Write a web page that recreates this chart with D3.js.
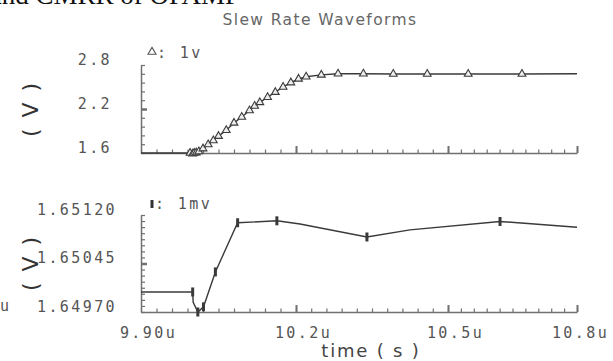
<!DOCTYPE html>
<html><head><meta charset="utf-8">
<script src="https://cdn.jsdelivr.net/npm/d3@7/dist/d3.min.js"></script>
<style>
html,body{margin:0;padding:0;background:#fff;overflow:hidden;}
svg{display:block;}
.lbl{font-family:"DejaVu Sans Mono",monospace;font-size:15px;fill:#555;letter-spacing:2.4px;}
</style></head>
<body>
<svg id="c" width="613" height="361"></svg>
<script>
// ---- data (time in microseconds) ----
const timeTop = [9.90, 9.985, 9.995, 10.000, 10.003, 10.007, 10.012, 10.020, 10.030, 10.040, 10.050, 10.065, 10.080, 10.095, 10.110, 10.120, 10.130, 10.145, 10.160, 10.175, 10.190, 10.205, 10.220, 10.250, 10.283, 10.333, 10.392, 10.459, 10.547, 10.672, 10.80];
const voutTop  = [1.600, 1.600, 1.600, 1.590, 1.600, 1.605, 1.620, 1.660, 1.715, 1.770, 1.830, 1.910, 2.010, 2.090, 2.180, 2.240, 2.290, 2.360, 2.430, 2.500, 2.560, 2.610, 2.640, 2.665, 2.680, 2.680, 2.677, 2.677, 2.677, 2.677, 2.680];
const topMarks = [0, 0, 1, 1, 1, 1, 1, 1, 1, 1, 1, 1, 1, 1, 1, 1, 1, 1, 1, 1, 1, 1, 1, 1, 1, 1, 1, 1, 1, 1, 0];

const timeBot = [9.90, 10.000, 10.001, 10.010, 10.021, 10.044, 10.087, 10.163, 10.208, 10.340, 10.425, 10.621, 10.80];
const vinBot  = [1.65001, 1.65001, 1.64985, 1.64970, 1.64978, 1.65032, 1.65108, 1.65111, 1.65106, 1.65086, 1.65097, 1.65110, 1.65101];
const botMarks = [0, 1, 0, 1, 1, 1, 1, 1, 0, 1, 0, 1, 0];

const xTickValues = [9.90, 10.2, 10.5, 10.8];
const xTickLabels = ["9.90u", "10.2u", "10.5u", "10.8u"];
const yTopTicks = [1.6, 2.2, 2.8];
const yTopLabels = ["1.6", "2.2", "2.8"];
const yBotTicks = [1.64970, 1.65045, 1.65120];
const yBotLabels = ["1.64970", "1.65045", "1.65120"];

const title = "Slew Rate Waveforms";
const xTitle = "time ( s )";
const yTitle = "( V )";
const legendTop = ": 1v";
const legendBot = ": 1mv";
const pageText = "and CMRR of OPAMP";

// ---- layout ----
const svg = d3.select("#c");
const ink = "#3a3a3a", axisC = "#707070";

const x = d3.scaleLinear().domain(xTickValues).range([141, 296, 448, 577]);
const yT = d3.scaleLinear().domain([1.6, 2.8]).range([153, 65]);
const yB = d3.scaleLinear().domain([1.64970, 1.65120]).range([312, 215]);

// clipped page text at the very top
svg.append("text").attr("x", 240).attr("y", 4).attr("text-anchor", "end")
  .attr("font-family", "Liberation Serif").attr("font-size", 27).attr("fill", "#111")
  .text(pageText);

svg.append("text").attr("x", 320).attr("y", 25).attr("text-anchor", "middle")
  .attr("font-family", "DejaVu Sans").attr("font-size", 15.5).attr("letter-spacing", 1.4)
  .attr("fill", "#666").text(title);

function styleAxis(g, w) {
  g.select(".domain").attr("stroke", axisC).attr("stroke-width", w || 1.5);
  g.selectAll(".tick line").attr("stroke", axisC).attr("stroke-width", 1.2);
}

function panel(y, yMajor, yLabels, yMinorStep, yLabelRight, withXLabels) {
  const [d0, d1] = y.domain();
  const [r0] = y.range();
  const minorY = d3.range(0, Math.round((d1 - d0) / yMinorStep) + 1).map(i => d0 + i * yMinorStep);
  const gy = svg.append("g").attr("transform", "translate(141,0)")
    .call(d3.axisRight(y).tickValues(minorY).tickSize(4).tickSizeOuter(0).tickFormat(""));
  styleAxis(gy);
  const gyM = svg.append("g").attr("transform", "translate(141,0)")
    .call(d3.axisRight(y).tickValues(yMajor.slice(1, -1)).tickSize(6).tickFormat(""));
  gyM.select(".domain").remove();
  gyM.selectAll(".tick line").attr("stroke", axisC).attr("stroke-width", 2.5);
  const gl = svg.append("g").attr("transform", `translate(${yLabelRight},0)`)
    .call(d3.axisLeft(y).tickValues(yMajor).tickSize(0).tickPadding(0)
      .tickFormat((d, i) => yLabels[i]));
  gl.select(".domain").remove();
  gl.selectAll("text").attr("class", "lbl").attr("dy", "-0.05em");
  const minorX = d3.range(0, 31).map(i => 9.90 + i * 0.03);
  const gx = svg.append("g").attr("transform", `translate(0,${r0})`)
    .call(d3.axisTop(x).tickValues(minorX).tickSize(3.5).tickSizeOuter(0).tickFormat(""));
  styleAxis(gx);
  const gxM = svg.append("g").attr("transform", `translate(0,${r0})`)
    .call(d3.axisTop(x).tickValues(xTickValues.slice(1)).tickSize(7).tickFormat(""));
  gxM.select(".domain").remove();
  gxM.selectAll(".tick line").attr("stroke", axisC).attr("stroke-width", 2);
  if (withXLabels) {
    const gxl = svg.append("g").attr("transform", `translate(0,${r0 + 15})`)
      .call(d3.axisBottom(x).tickValues(xTickValues).tickSize(0).tickPadding(0)
        .tickFormat((d, i) => xTickLabels[i]));
    gxl.select(".domain").remove();
    gxl.selectAll("text").attr("class", "lbl").attr("dx", (d, i) => i === xTickValues.length - 1 ? 3 : 7);
  }
}

panel(yT, yTopTicks, yTopLabels, 0.12, 112, false);
panel(yB, yBotTicks, yBotLabels, 0.00015 / 1.6, 117, true);

// axis titles
function yTitleAt(cx, cy) {
  svg.append("text").attr("transform", `translate(${cx},${cy}) rotate(-90)`)
    .attr("text-anchor", "middle").attr("dominant-baseline", "central")
    .attr("font-family", "DejaVu Sans").attr("font-size", 22).attr("letter-spacing", 2)
    .attr("fill", "#333").text(yTitle);
}
yTitleAt(30, 109);
yTitleAt(30, 263);
svg.append("text").attr("x", 371).attr("y", 357).attr("text-anchor", "middle")
  .attr("font-family", "DejaVu Sans").attr("font-size", 18).attr("letter-spacing", 1.8)
  .attr("fill", "#444").text(xTitle);
svg.append("text").attr("x", 0).attr("y", 311).attr("class", "lbl").text("u");

// top series
const topPts = timeTop.map((t, i) => [t, voutTop[i], topMarks[i]]);
svg.append("path").datum(topPts)
  .attr("d", d3.line().x(d => x(d[0])).y(d => yT(d[1])))
  .attr("fill", "none").attr("stroke", ink).attr("stroke-width", 1.4);
const tri = d3.symbol(d3.symbolTriangle).size(26);
svg.append("g").selectAll("path").data(topPts.filter(d => d[2])).join("path")
  .attr("transform", d => `translate(${x(d[0])},${yT(d[1])})`)
  .attr("d", tri).attr("fill", "#eee").attr("stroke", ink).attr("stroke-width", 1.1);

// bottom series
const botPts = timeBot.map((t, i) => [t, vinBot[i], botMarks[i]]);
svg.append("path").datum(botPts)
  .attr("d", d3.line().x(d => x(d[0])).y(d => yB(d[1])))
  .attr("fill", "none").attr("stroke", ink).attr("stroke-width", 1.4);
svg.append("g").selectAll("path").data(botPts.filter(d => d[2])).join("path")
  .attr("transform", d => `translate(${x(d[0])},${yB(d[1])})`)
  .attr("d", "M0,-4.5V4.5").attr("stroke", ink).attr("stroke-width", 3);

// legends
svg.append("path").attr("transform", "translate(152,52)").attr("d", d3.symbol(d3.symbolTriangle).size(28))
  .attr("fill", "none").attr("stroke", "#555").attr("stroke-width", 1.1);
svg.append("text").attr("x", 157).attr("y", 58).attr("class", "lbl").text(legendTop);
svg.append("path").attr("d", "M152,200V208").attr("stroke", "#333").attr("stroke-width", 3);
svg.append("text").attr("x", 155).attr("y", 209).attr("class", "lbl").text(legendBot);
</script>
</body></html>
